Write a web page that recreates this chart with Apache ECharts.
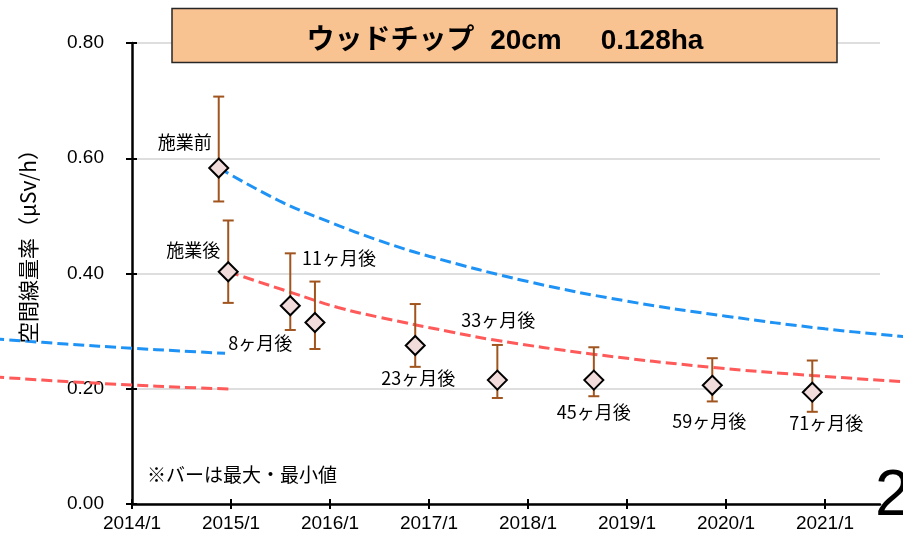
<!DOCTYPE html>
<html>
<head>
<meta charset="utf-8">
<script src="https://cdn.jsdelivr.net/npm/echarts@6/dist/echarts.min.js"></script>
<style>
  html, body { margin: 0; padding: 0; background: #fff; }
  #chart { width: 903px; height: 533px; }
</style>
</head>
<body>
<div id="chart"></div>
<script>
// Survey dates with the mean, maximum and minimum air dose rate (μSv/h)
const surveyDates = ['2014-11-17', '2014-12-22', '2015-08-08', '2015-11-07', '2016-11-11',
                     '2017-09-10', '2018-09-01', '2019-11-12', '2020-11-15'];
const meanRate = [0.583, 0.403, 0.344, 0.315, 0.275, 0.215, 0.215, 0.206, 0.194];
const maxRate  = [0.707, 0.492, 0.435, 0.386, 0.347, 0.276, 0.272, 0.253, 0.249];
const minRate  = [0.525, 0.349, 0.302, 0.269, 0.238, 0.184, 0.187, 0.178, 0.160];
const pointLabels = ['施業前', '施業後', '8ヶ月後', '11ヶ月後', '23ヶ月後',
                     '33ヶ月後', '45ヶ月後', '59ヶ月後', '71ヶ月後'];

// Physical-decay reference curves (x = years after 2014/1)
const decayBeforeX = [0.879, 1.5, 2.0, 2.5, 3.0, 4.0, 5.0, 6.0, 7.0, 7.9];
const decayBeforeY = [0.583, 0.525, 0.489, 0.457, 0.430, 0.386, 0.352, 0.326, 0.304, 0.289];
const decayBeforeLeadX = [-1.4, -0.667, 0.0, 0.5, 0.94];
const decayBeforeLeadY = [0.2866, 0.2777, 0.2702, 0.2655, 0.2615];
const decayAfterX = [0.973, 1.626, 2.081, 2.5, 3.212, 3.646, 4.657, 5.869, 6.869, 7.9];
const decayAfterY = [0.403, 0.366, 0.341, 0.324, 0.299, 0.285, 0.260, 0.237, 0.223, 0.211];
const decayAfterLeadX = [-1.4, -0.667, 0.0, 0.5, 1.0];
const decayAfterLeadY = [0.2207, 0.2126, 0.2065, 0.2025, 0.1996];

// Axis ticks
const yearTicks = [0, 1, 2, 3, 4, 5, 6, 7];
const firstYear = 2014;
const xMax = 7.556;
const yMax = 0.8;

const titleText = 'ウッドチップ  20cm     0.128ha';
const noteText = '※バーは最大・最小値';
const yAxisTitle = '空間線量率（μSv/h）';
const pageNo = '2';

// Offsets of each point's caption from its marker (px)
const labelOffsets = [[-34, -26], [-35, -22], [-30, 37], [24, -64], [3, 33],
                      [1, -60], [0, 32], [-3, 36], [14, 31]];

const yearsSince = d => (Date.parse(d) - Date.UTC(firstYear, 0, 1)) / (365.25 * 864e5);
const zip = (xs, ys) => xs.map((x, i) => [x, ys[i]]);

const CJK = "'Noto Sans CJK JP', sans-serif";
const NUM = "'Liberation Sans Narrow', 'Liberation Sans', sans-serif";
const BLUE = '#1E93F5';
const RED = '#FF5A5A';
const BAR = '#A0541E';

const W = 903;
const plot = { left: 132, right: 23, top: 43, bottom: 29 };
const pxPerYear = (W - plot.left - plot.right) / xMax;

const pointX = surveyDates.map(yearsSince);

// The decay curves run across the whole canvas width, so they live on an
// overlay grid whose hidden x axis keeps the same years-per-pixel scale.
const curveStyle = color => ({
  type: 'line', xAxisIndex: 2, yAxisIndex: 2,
  showSymbol: false, symbol: 'none', smooth: 0.4,
  silent: true, z: 2,
  lineStyle: { color: color, width: 3, type: [11, 5] }
});

const hiddenAxis = extra => Object.assign({
  type: 'value', show: false,
  axisLine: { show: false }, axisTick: { show: false },
  axisLabel: { show: false }, splitLine: { show: false }
}, extra);

const chart = echarts.init(document.getElementById('chart'), null, { renderer: 'canvas' });

const option = {
  animation: false,
  backgroundColor: '#fff',
  grid: [
    Object.assign({ containLabel: false }, plot),
    { left: 0, right: 0, top: plot.top, bottom: plot.bottom, containLabel: false }
  ],
  xAxis: [
    {
      type: 'value', gridIndex: 0, min: 0, max: xMax, interval: 1, position: 'bottom',
      axisLine: { show: true, onZero: false, lineStyle: { color: '#000', width: 2.5 } },
      axisTick: { show: true, length: 5, customValues: yearTicks, lineStyle: { color: '#000', width: 2 } },
      axisLabel: {
        customValues: yearTicks, margin: 10, color: '#000', fontSize: 19, fontFamily: NUM,
        formatter: v => (firstYear + Math.round(v)) + '/1'
      },
      splitLine: { show: false }
    },
    {
      type: 'value', gridIndex: 0, min: 0, max: xMax, interval: 1, position: 'bottom',
      axisLine: { show: false, onZero: false },
      axisTick: { show: true, inside: true, length: 5, customValues: yearTicks, lineStyle: { color: '#000', width: 2 } },
      axisLabel: { show: false },
      splitLine: { show: false }
    },
    hiddenAxis({
      gridIndex: 1,
      min: -plot.left / pxPerYear,
      max: xMax + plot.right / pxPerYear
    })
  ],
  yAxis: [
    {
      type: 'value', gridIndex: 0, min: 0, max: yMax, interval: 0.2, position: 'left',
      axisLine: { show: true, onZero: false, lineStyle: { color: '#000', width: 2.5 } },
      axisTick: { show: true, length: 6, lineStyle: { color: '#000', width: 2 } },
      axisLabel: {
        margin: 28, color: '#000', fontSize: 19, fontFamily: NUM,
        formatter: v => v.toFixed(2)
      },
      splitLine: { show: true, lineStyle: { color: '#d3d3d3', width: 1.5 } }
    },
    {
      type: 'value', gridIndex: 0, min: 0, max: yMax, interval: 0.2, position: 'left',
      axisLine: { show: false, onZero: false },
      axisTick: { show: true, inside: true, length: 5, lineStyle: { color: '#000', width: 2 } },
      axisLabel: { show: false },
      splitLine: { show: false }
    },
    hiddenAxis({ gridIndex: 1, min: 0, max: yMax })
  ],
  series: [
    Object.assign(curveStyle(BLUE), { data: zip(decayBeforeX, decayBeforeY) }),
    Object.assign(curveStyle(BLUE), { data: zip(decayBeforeLeadX, decayBeforeLeadY) }),
    Object.assign(curveStyle(RED), { data: zip(decayAfterX, decayAfterY) }),
    Object.assign(curveStyle(RED), { data: zip(decayAfterLeadX, decayAfterLeadY) }),
    {
      // min–max bars
      type: 'custom', z: 3, silent: true,
      encode: { x: 0, y: [1, 2] },
      data: pointX.map((x, i) => [x, minRate[i], maxRate[i]]),
      renderItem: (params, api) => {
        const x = api.value(0);
        const lo = api.coord([x, api.value(1)]);
        const hi = api.coord([x, api.value(2)]);
        const hw = 5.5;
        const style = { stroke: BAR, lineWidth: 2, fill: null };
        return {
          type: 'group',
          children: [
            { type: 'line', shape: { x1: lo[0], y1: lo[1], x2: hi[0], y2: hi[1] }, style },
            { type: 'line', shape: { x1: lo[0] - hw, y1: lo[1], x2: lo[0] + hw, y2: lo[1] }, style },
            { type: 'line', shape: { x1: hi[0] - hw, y1: hi[1], x2: hi[0] + hw, y2: hi[1] }, style }
          ]
        };
      }
    },
    {
      type: 'scatter', z: 4, silent: true,
      symbol: 'diamond', symbolSize: 19,
      itemStyle: { color: '#F2DCDB', borderColor: '#000', borderWidth: 2, opacity: 1 },
      label: {
        show: true, position: 'inside', color: '#000', fontSize: 18, fontFamily: CJK,
        formatter: p => pointLabels[p.dataIndex]
      },
      data: pointX.map((x, i) => ({
        value: [x, meanRate[i]],
        label: { offset: labelOffsets[i] }
      }))
    }
  ],
  graphic: [
    {
      type: 'rect', z: 10, silent: true,
      shape: { x: 172, y: 8.5, width: 665, height: 54 },
      style: { fill: '#F9C291', stroke: '#262626', lineWidth: 1.5 }
    },
    {
      type: 'text', z: 11, silent: true, x: 505, y: 41,
      style: {
        text: titleText, align: 'center', verticalAlign: 'middle',
        font: "bold 28px 'Liberation Sans', 'Noto Sans CJK JP', sans-serif", fill: '#000'
      }
    },
    {
      type: 'text', z: 11, silent: true, x: 28, y: 241, rotation: Math.PI / 2,
      style: {
        text: yAxisTitle, align: 'center', verticalAlign: 'middle',
        font: "21px 'Noto Sans CJK JP', sans-serif", fill: '#000'
      }
    },
    {
      type: 'text', z: 11, silent: true, x: 147, y: 475,
      style: {
        text: noteText, align: 'left', verticalAlign: 'middle',
        font: "19px 'Noto Sans CJK JP', sans-serif", fill: '#000'
      }
    },
    {
      type: 'text', z: 11, silent: true, x: 875, y: 497,
      style: {
        text: pageNo, align: 'left', verticalAlign: 'middle',
        font: "64px 'Liberation Sans', sans-serif", fill: '#000'
      }
    }
  ]
};

chart.setOption(option);
</script>
</body>
</html>
